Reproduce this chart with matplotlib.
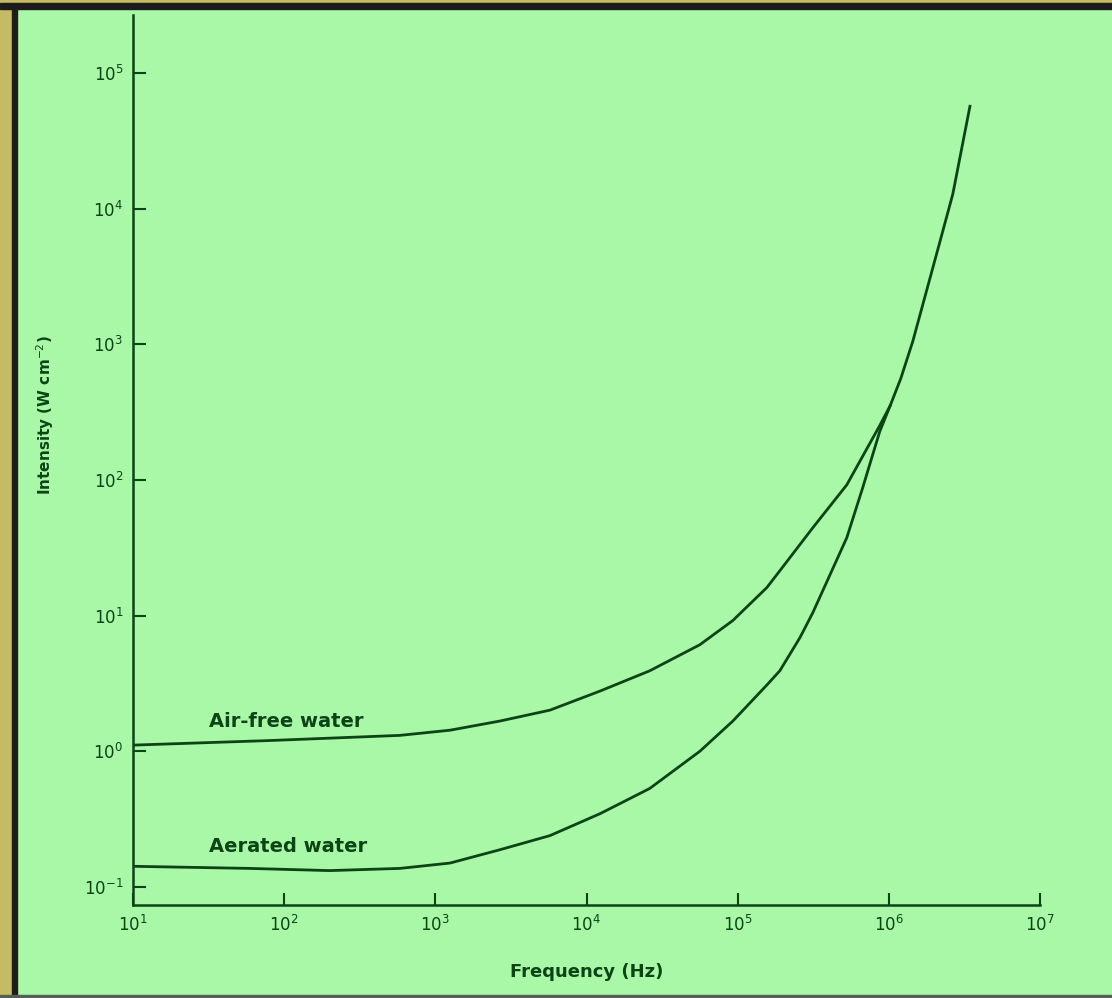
import numpy as np
import matplotlib
matplotlib.use("Agg")
import matplotlib.pyplot as plt
from matplotlib.patches import Rectangle

# values (Hz, W cm^-2)
freq_airfree = [10, 80, 583, 1250, 2670, 5730, 12300, 26200, 56200, 92900,
                1.56e5, 1.9e5, 3.14e5, 5.27e5, 8.71e5, 1.02e6, 1.2e6, 1.44e6, 2.17e6, 2.65e6, 3.44e6]
int_airfree = [1.11, 1.2, 1.31, 1.43, 1.67, 2.01, 2.78, 3.92, 6.1, 9.2,
               16.1, 21.4, 44.4, 92, 252, 352, 560, 1050, 5620, 12800, 56800]

freq_aerated = [10, 59, 200, 583, 1250, 2670, 5730, 12300, 26200, 56200, 92900,
                1.56e5, 1.9e5, 2.58e5, 3.14e5, 5.27e5, 6.71e5, 8.71e5, 1.02e6]
int_aerated = [0.142, 0.137, 0.132, 0.137, 0.150, 0.188, 0.239, 0.347, 0.532, 1.0, 1.67,
               3.08, 3.92, 6.87, 10.5, 37.5, 87.3, 228, 352]

x_ticks = [1e1, 1e2, 1e3, 1e4, 1e5, 1e6, 1e7]
x_ticklabels = ['$10^1$', '$10^2$', '$10^3$', '$10^4$', '$10^5$', '$10^6$', '$10^7$']
y_ticks = [1e-1, 1e0, 1e1, 1e2, 1e3, 1e4, 1e5]
y_ticklabels = ['$10^{-1}$', '$10^0$', '$10^1$', '$10^2$', '$10^3$', '$10^4$', '$10^5$']

bg = '#a8f8a8'
ink = '#0c4416'

fig = plt.figure(figsize=(11.12, 9.98), dpi=100)
fig.patch.set_facecolor(bg)

# scan frame: olive strip, dark border
fig.patches.append(Rectangle((0, 0), 12/1112, 1, transform=fig.transFigure, color='#c4bb63', zorder=0))
fig.patches.append(Rectangle((12/1112, 0), 5/1112, 1, transform=fig.transFigure, color='#1c1c1c', zorder=0))
fig.patches.append(Rectangle((0, 1-3/998), 1, 3/998, transform=fig.transFigure, color='#c4bb63', zorder=0))
fig.patches.append(Rectangle((0, 1-9/998), 1, 6/998, transform=fig.transFigure, color='#1c1c1c', zorder=0))
fig.patches.append(Rectangle((0, 0), 1, 3/998, transform=fig.transFigure, color='#555f55', zorder=0))

ax = fig.add_axes([133/1112, 1-905/998, (1040-133)/1112, (905-15)/998])
ax.set_facecolor(bg)

ax.plot(freq_airfree, int_airfree, color=ink, lw=2)
ax.plot(freq_aerated, int_aerated, color=ink, lw=2)

ax.set_xscale('log')
ax.set_yscale('log')
ax.set_xlim(1e1, 1e7)
ax.set_ylim(10**-1.133, 10**5.427)

ax.set_xticks(x_ticks)
ax.set_xticklabels(x_ticklabels)
ax.set_yticks(y_ticks)
ax.set_yticklabels(y_ticklabels)
ax.minorticks_off()
ax.tick_params(direction='in', length=9, width=1.5, colors=ink, labelsize=12, pad=7)

for s in ['top', 'right']:
    ax.spines[s].set_visible(False)
for s in ['left', 'bottom']:
    ax.spines[s].set_color(ink)
    ax.spines[s].set_linewidth(1.8)

ax.text(32, 1.65, 'Air-free water', color=ink, fontsize=14, fontweight='bold', va='center')
ax.text(32, 0.2, 'Aerated water', color=ink, fontsize=14, fontweight='bold', va='center')

ax.set_xlabel('Frequency (Hz)', color=ink, fontsize=13, fontweight='bold', labelpad=20)
ax.set_ylabel('Intensity (W cm$^{-2}$)', color=ink, fontsize=11, fontweight='bold')
ax.yaxis.set_label_coords(-0.085, 0.55)

fig.savefig('out.png', dpi=100, facecolor=fig.get_facecolor())
